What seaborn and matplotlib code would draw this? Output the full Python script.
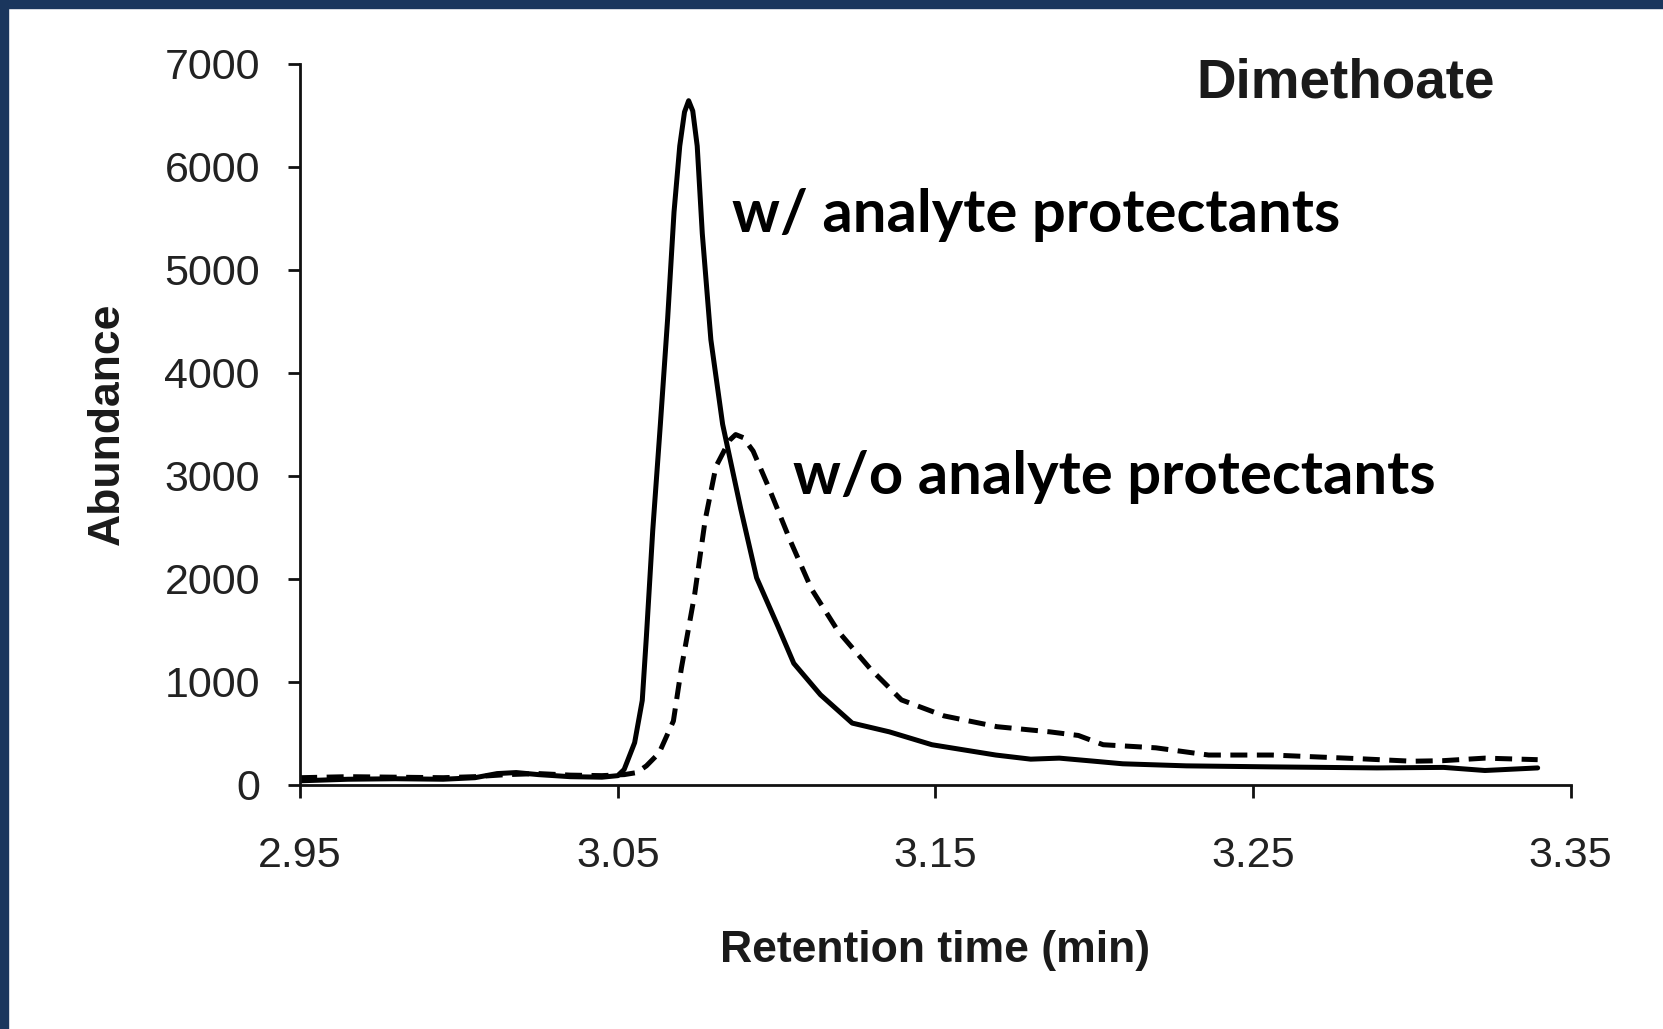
import matplotlib
matplotlib.use("Agg")
import matplotlib.pyplot as plt
from matplotlib.patches import Rectangle
import seaborn as sns

# chromatogram traces
t_with = [2.950, 2.965, 2.980, 2.995, 3.005, 3.012, 3.018, 3.025, 3.035, 3.045, 3.050,
          3.052, 3.0553, 3.0577, 3.059, 3.061, 3.0634, 3.0657, 3.0677, 3.0695, 3.071,
          3.0723, 3.0736, 3.075, 3.0766, 3.0793, 3.083, 3.0887, 3.0937, 3.1004, 3.1054,
          3.1138, 3.1238, 3.1355, 3.1489, 3.169, 3.180, 3.189, 3.200, 3.209, 3.229,
          3.256, 3.289, 3.310, 3.323, 3.3396]
ab_with = [40, 55, 60, 55, 70, 110, 120, 100, 80, 75, 90,
           150, 410, 820, 1440, 2470, 3500, 4530, 5560, 6200, 6530,
           6640, 6540, 6200, 5350, 4320, 3500, 2680, 2010, 1540, 1180,
           875, 600, 515, 390, 290, 250, 260, 230, 205, 185,
           175, 165, 170, 140, 165]

t_without = [2.950, 2.965, 2.980, 2.995, 3.005, 3.015, 3.025, 3.035, 3.045, 3.052,
             3.056, 3.059, 3.063, 3.0675, 3.070, 3.0742, 3.0775, 3.0809, 3.0852,
             3.0871, 3.0895, 3.0926, 3.0976, 3.1043, 3.111, 3.1194, 3.1294, 3.1393,
             3.1527, 3.1694, 3.186, 3.195, 3.2028, 3.2194, 3.236, 3.256, 3.283,
             3.300, 3.3096, 3.323, 3.3396]
ab_without = [70, 80, 75, 70, 80, 100, 110, 95, 90, 100,
              120, 185, 310, 620, 1130, 1850, 2570, 3090, 3345,
              3400, 3370, 3240, 2880, 2370, 1900, 1490, 1130, 825,
              670, 565, 515, 480, 390, 360, 290, 290, 255,
              230, 235, 260, 245]

x_ticks = [2.95, 3.05, 3.15, 3.25, 3.35]
y_ticks = [0, 1000, 2000, 3000, 4000, 5000, 6000, 7000]

sns.set_style("white")
plt.rcParams["font.family"] = ["Liberation Sans", "DejaVu Sans"]

fig = plt.figure(figsize=(16.63, 10.29), dpi=100)
ax = fig.add_axes([0.1805, 0.2372, 0.7640, 0.7010])

sns.lineplot(x=t_with, y=ab_with, ax=ax, color="black", lw=3.6, sort=False)
sns.lineplot(x=t_without, y=ab_without, ax=ax, color="black", lw=3.6, sort=False,
             linestyle=(0, (3.4, 1.9)))

ax.set_xlim(2.95, 3.35)
ax.set_ylim(0, 7000)
ax.set_xticks(x_ticks)
ax.set_xticklabels([f"{v:.2f}" for v in x_ticks])
ax.set_yticks(y_ticks)
ax.set_yticklabels([str(v) for v in y_ticks])

sns.despine(ax=ax)
for side in ["left", "bottom"]:
    ax.spines[side].set_linewidth(2.0)
    ax.spines[side].set_color("#111111")

ax.tick_params(axis="both", direction="out", length=9, width=2.0, color="#111111",
               labelsize=31, labelcolor="#222222", bottom=True, left=True)
ax.tick_params(axis="y", pad=20)
ax.tick_params(axis="x", pad=28)

ax.set_xlabel("Retention time (min)", fontsize=32, fontweight="bold", labelpad=39,
              color="#1a1a1a")
ax.set_ylabel("Abundance", fontsize=32, fontweight="bold", labelpad=26,
              color="#1a1a1a")

ax.text(3.326, 6810, "Dimethoate", ha="right", va="center", fontsize=39.5,
        fontweight="bold", color="#1a1a1a")
ax.text(3.0859, 5531, "w/ analyte protectants", ha="left", va="center",
        fontsize=43, fontweight="bold", color="black", family=["Lato", "DejaVu Sans"])
ax.text(3.1051, 2988, "w/o analyte protectants", ha="left", va="center",
        fontsize=43, fontweight="bold", color="black", family=["Lato", "DejaVu Sans"])

# navy frame at top and left edge
navy = "#1a365d"
fig.patches.append(Rectangle((0, 1 - 8 / 1029), 1, 8 / 1029, transform=fig.transFigure,
                             color=navy, zorder=10))
fig.patches.append(Rectangle((0, 0), 8 / 1663, 1, transform=fig.transFigure,
                             color=navy, zorder=10))

fig.savefig("out.png", dpi=100, facecolor="white")
